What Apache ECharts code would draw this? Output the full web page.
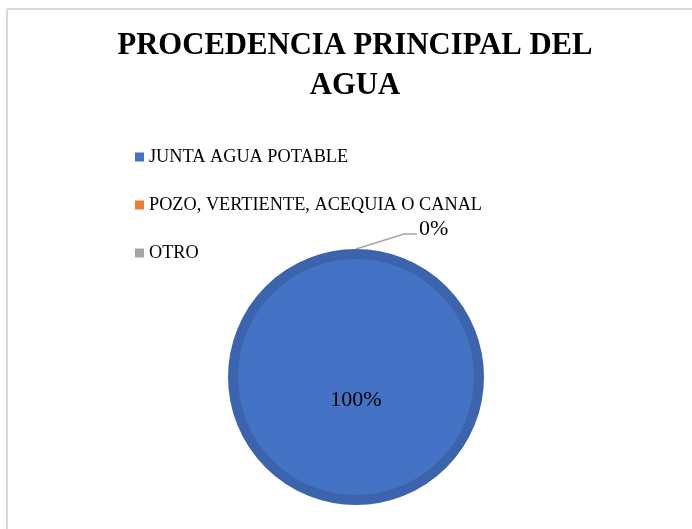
<!DOCTYPE html>
<html>
<head>
<meta charset="utf-8">
<script src="https://cdn.jsdelivr.net/npm/echarts@6/dist/echarts.min.js"></script>
<style>
html,body{margin:0;padding:0;background:#fff;}
#chart{width:692px;height:529px;}
</style>
</head>
<body>
<div id="chart"></div>
<script>
const titleText = 'PROCEDENCIA PRINCIPAL DEL\nAGUA';
const categories = ['JUNTA AGUA POTABLE', 'POZO, VERTIENTE, ACEQUIA O CANAL', 'OTRO'];
const values = [100, 0, 0];
const labelsShown = [true, true, false];
const colors = ['#4472C4', '#ED7D31', '#A5A5A5'];

const FONT = "'Liberation Serif', 'Times New Roman', serif";
const BORDER = 10;

const data = categories.map((name, i) => {
  const item = { name: name, value: values[i] };
  if (values[i] > 0) {
    item.itemStyle = { borderWidth: BORDER, borderColor: '#3B64AD' };
    item.label = { show: labelsShown[i], position: 'center' };
  } else {
    item.itemStyle = { borderWidth: 0 };
    item.label = { show: labelsShown[i], position: 'outside' };
  }
  return item;
});

const chart = echarts.init(document.getElementById('chart'), null, { renderer: 'canvas' });
chart.setOption({
  animation: false,
  color: colors,
  graphic: [
    { type: 'line', shape: { x1: 7, y1: 9, x2: 700, y2: 9 }, style: { stroke: '#D9D9D9', lineWidth: 2 }, silent: true },
    { type: 'line', shape: { x1: 7, y1: 9, x2: 7, y2: 540 }, style: { stroke: '#D9D9D9', lineWidth: 2 }, silent: true }
  ],
  title: {
    text: titleText,
    left: 350,
    top: 21,
    textAlign: 'center',
    textStyle: {
      fontFamily: FONT, fontSize: 30.7, fontWeight: 'bold', color: '#000',
      lineHeight: 40
    }
  },
  legend: {
    orient: 'vertical',
    left: 130,
    top: 143,
    itemWidth: 9,
    itemHeight: 9,
    itemGap: 30,
    icon: 'rect',
    data: categories,
    selectedMode: false,
    itemStyle: { borderWidth: 0 },
    textStyle: { fontFamily: FONT, fontSize: 18.3, color: '#000', lineHeight: 18 }
  },
  series: [{
    type: 'pie',
    center: [356, 377],
    radius: [0, 123],
    startAngle: 90,
    clockwise: true,
    avoidLabelOverlap: false,
    silent: true,
    data: data,
    label: {
      fontFamily: FONT, fontSize: 22, color: '#000',
      formatter: p => Math.round(p.percent) + '%'
    },
    labelLine: { show: true, length: 20, length2: 10, lineStyle: { color: '#A6A6A6', width: 1.5 } },
    labelLayout: function (params) {
      if (values[params.dataIndex] > 0) return { dy: 23 };
      const pts = params.labelLinePoints;
      if (!pts) return {};
      const p0 = pts[0], p1 = pts[1];
      const dx = p1[0] - p0[0], dy = p1[1] - p0[1];
      const len = Math.sqrt(dx * dx + dy * dy) || 1;
      const s = [p0[0] + dx / len * BORDER / 2, p0[1] + dy / len * BORDER / 2];
      const mid = [s[0] + 48, s[1] - 15];
      const end = [mid[0] + 13, mid[1]];
      return {
        x: end[0] + 2,
        y: end[1] - 5,
        align: 'left',
        verticalAlign: 'middle',
        labelLinePoints: [s, mid, end]
      };
    }
  }]
});
</script>
</body>
</html>
